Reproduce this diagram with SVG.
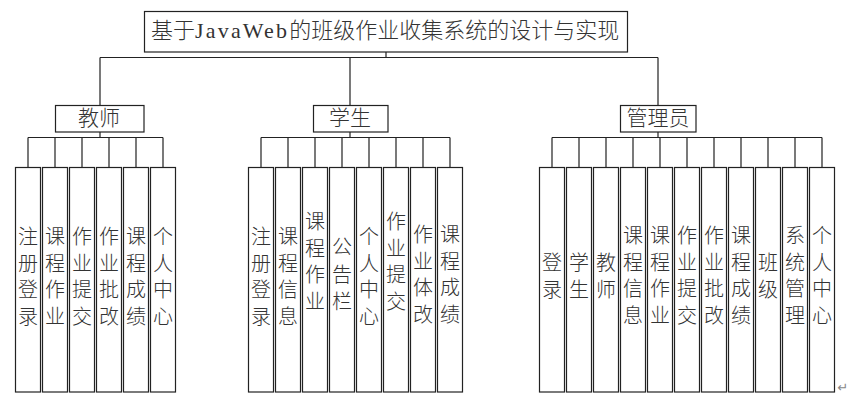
<svg xmlns="http://www.w3.org/2000/svg" width="851" height="403" viewBox="0 0 851 403">
<style>
.box{fill:#fff;stroke:#222;stroke-width:1.2}
.ln{fill:none;stroke:#222;stroke-width:1.2}
.t{font-family:"Noto Sans CJK SC",sans-serif;font-weight:300;fill:#333;text-anchor:middle}
.lf{font-size:20px}
.cat{font-size:21px}
.ttl{font-family:"Noto Sans CJK SC",sans-serif;font-size:22px;font-weight:300;fill:#333}
.lat{font-family:"Liberation Serif",serif}
</style>
<rect width="851" height="403" fill="#fff"/>
<g id="connectors">
<path class="ln" d="M386 52V57.5M100 57.5H658M100 57.5V105M350 57.5V105M658 57.5V105"/>
<path class="ln" d="M100 132V137.5M28 137.5H163M28 137.5V167M55 137.5V167M82 137.5V167M109 137.5V167M136 137.5V167M163 137.5V167"/>
<path class="ln" d="M350 132V137.5M261 137.5H450M261 137.5V167M288 137.5V167M315 137.5V167M342 137.5V167M369 137.5V167M396 137.5V167M423 137.5V167M450 137.5V167"/>
<path class="ln" d="M658 132V137.5M552 137.5H822M552 137.5V167M579 137.5V167M606 137.5V167M633 137.5V167M660 137.5V167M687 137.5V167M714 137.5V167M741 137.5V167M768 137.5V167M795 137.5V167M822 137.5V167"/>
</g>
<g id="root"><rect class="box" x="144.5" y="11.5" width="483" height="40.5"/><text class="ttl" x="151" y="38">基于<tspan class="lat" textLength="92" lengthAdjust="spacing">JavaWeb</tspan>的班级作业收集系统的设计与实现</text></g>
<g id="teacher"><rect class="box" x="55.5" y="105.5" width="88.5" height="26.5"/><text class="t cat" x="99" y="125">教师</text></g>
<g id="student"><rect class="box" x="313.5" y="105.5" width="74.5" height="26.5"/><text class="t cat" x="350" y="125">学生</text></g>
<g id="admin"><rect class="box" x="620.5" y="105.5" width="75.5" height="26.5"/><text class="t cat" x="658" y="125">管理员</text></g>

<g id="t1"><rect class="box" x="15.5" y="167.5" width="25" height="224.5"/><text class="t lf" x="28" y="244"><tspan x="28">注</tspan><tspan x="28" dy="26.7">册</tspan><tspan x="28" dy="26.7">登</tspan><tspan x="28" dy="26.7">录</tspan></text></g>
<g id="t2"><rect class="box" x="42.5" y="167.5" width="25" height="224.5"/><text class="t lf" x="55" y="244"><tspan x="55">课</tspan><tspan x="55" dy="26.7">程</tspan><tspan x="55" dy="26.7">作</tspan><tspan x="55" dy="26.7">业</tspan></text></g>
<g id="t3"><rect class="box" x="69.5" y="167.5" width="25" height="224.5"/><text class="t lf" x="82" y="244"><tspan x="82">作</tspan><tspan x="82" dy="26.7">业</tspan><tspan x="82" dy="26.7">提</tspan><tspan x="82" dy="26.7">交</tspan></text></g>
<g id="t4"><rect class="box" x="96.5" y="167.5" width="25" height="224.5"/><text class="t lf" x="109" y="244"><tspan x="109">作</tspan><tspan x="109" dy="26.7">业</tspan><tspan x="109" dy="26.7">批</tspan><tspan x="109" dy="26.7">改</tspan></text></g>
<g id="t5"><rect class="box" x="123.5" y="167.5" width="25" height="224.5"/><text class="t lf" x="136" y="244"><tspan x="136">课</tspan><tspan x="136" dy="26.7">程</tspan><tspan x="136" dy="26.7">成</tspan><tspan x="136" dy="26.7">绩</tspan></text></g>
<g id="t6"><rect class="box" x="150.5" y="167.5" width="25" height="224.5"/><text class="t lf" x="163" y="244"><tspan x="163">个</tspan><tspan x="163" dy="26.7">人</tspan><tspan x="163" dy="26.7">中</tspan><tspan x="163" dy="26.7">心</tspan></text></g>

<g id="s1"><rect class="box" x="248.5" y="167.5" width="25" height="224.5"/><text class="t lf" x="261" y="244"><tspan x="261">注</tspan><tspan x="261" dy="26.7">册</tspan><tspan x="261" dy="26.7">登</tspan><tspan x="261" dy="26.7">录</tspan></text></g>
<g id="s2"><rect class="box" x="275.5" y="167.5" width="25" height="224.5"/><text class="t lf" x="288" y="244"><tspan x="288">课</tspan><tspan x="288" dy="26.7">程</tspan><tspan x="288" dy="26.7">信</tspan><tspan x="288" dy="26.7">息</tspan></text></g>
<g id="s3"><rect class="box" x="302.5" y="167.5" width="25" height="224.5"/><text class="t lf" x="315" y="229"><tspan x="315">课</tspan><tspan x="315" dy="26.7">程</tspan><tspan x="315" dy="26.7">作</tspan><tspan x="315" dy="26.7">业</tspan></text></g>
<g id="s4"><rect class="box" x="329.5" y="167.5" width="25" height="224.5"/><text class="t lf" x="342" y="254"><tspan x="342">公</tspan><tspan x="342" dy="27.5">告</tspan><tspan x="342" dy="27.5">栏</tspan></text></g>
<g id="s5"><rect class="box" x="356.5" y="167.5" width="25" height="224.5"/><text class="t lf" x="369" y="244"><tspan x="369">个</tspan><tspan x="369" dy="26.7">人</tspan><tspan x="369" dy="26.7">中</tspan><tspan x="369" dy="26.7">心</tspan></text></g>
<g id="s6"><rect class="box" x="383.5" y="167.5" width="25" height="224.5"/><text class="t lf" x="396" y="229"><tspan x="396">作</tspan><tspan x="396" dy="26.7">业</tspan><tspan x="396" dy="26.7">提</tspan><tspan x="396" dy="26.7">交</tspan></text></g>
<g id="s7"><rect class="box" x="410.5" y="167.5" width="25" height="224.5"/><text class="t lf" x="423" y="242"><tspan x="423">作</tspan><tspan x="423" dy="26.7">业</tspan><tspan x="423" dy="26.7">体</tspan><tspan x="423" dy="26.7">改</tspan></text></g>
<g id="s8"><rect class="box" x="437.5" y="167.5" width="25" height="224.5"/><text class="t lf" x="450" y="242"><tspan x="450">课</tspan><tspan x="450" dy="26.7">程</tspan><tspan x="450" dy="26.7">成</tspan><tspan x="450" dy="26.7">绩</tspan></text></g>

<g id="a1"><rect class="box" x="539.5" y="167.5" width="25" height="224.5"/><text class="t lf" x="552" y="270"><tspan x="552">登</tspan><tspan x="552" dy="26.7">录</tspan></text></g>
<g id="a2"><rect class="box" x="566.5" y="167.5" width="25" height="224.5"/><text class="t lf" x="579" y="270"><tspan x="579">学</tspan><tspan x="579" dy="26.7">生</tspan></text></g>
<g id="a3"><rect class="box" x="593.5" y="167.5" width="25" height="224.5"/><text class="t lf" x="606" y="270"><tspan x="606">教</tspan><tspan x="606" dy="26.7">师</tspan></text></g>
<g id="a4"><rect class="box" x="620.5" y="167.5" width="25" height="224.5"/><text class="t lf" x="633" y="243"><tspan x="633">课</tspan><tspan x="633" dy="26.7">程</tspan><tspan x="633" dy="26.7">信</tspan><tspan x="633" dy="26.7">息</tspan></text></g>
<g id="a5"><rect class="box" x="647.5" y="167.5" width="25" height="224.5"/><text class="t lf" x="660" y="243"><tspan x="660">课</tspan><tspan x="660" dy="26.7">程</tspan><tspan x="660" dy="26.7">作</tspan><tspan x="660" dy="26.7">业</tspan></text></g>
<g id="a6"><rect class="box" x="674.5" y="167.5" width="25" height="224.5"/><text class="t lf" x="687" y="243"><tspan x="687">作</tspan><tspan x="687" dy="26.7">业</tspan><tspan x="687" dy="26.7">提</tspan><tspan x="687" dy="26.7">交</tspan></text></g>
<g id="a7"><rect class="box" x="701.5" y="167.5" width="25" height="224.5"/><text class="t lf" x="714" y="243"><tspan x="714">作</tspan><tspan x="714" dy="26.7">业</tspan><tspan x="714" dy="26.7">批</tspan><tspan x="714" dy="26.7">改</tspan></text></g>
<g id="a8"><rect class="box" x="728.5" y="167.5" width="25" height="224.5"/><text class="t lf" x="741" y="243"><tspan x="741">课</tspan><tspan x="741" dy="26.7">程</tspan><tspan x="741" dy="26.7">成</tspan><tspan x="741" dy="26.7">绩</tspan></text></g>
<g id="a9"><rect class="box" x="755.5" y="167.5" width="25" height="224.5"/><text class="t lf" x="768" y="270"><tspan x="768">班</tspan><tspan x="768" dy="26.7">级</tspan></text></g>
<g id="a10"><rect class="box" x="782.5" y="167.5" width="25" height="224.5"/><text class="t lf" x="795" y="243"><tspan x="795">系</tspan><tspan x="795" dy="26.7">统</tspan><tspan x="795" dy="26.7">管</tspan><tspan x="795" dy="26.7">理</tspan></text></g>
<g id="a11"><rect class="box" x="809.5" y="167.5" width="25" height="224.5"/><text class="t lf" x="822" y="243"><tspan x="822">个</tspan><tspan x="822" dy="26.7">人</tspan><tspan x="822" dy="26.7">中</tspan><tspan x="822" dy="26.7">心</tspan></text></g>
<text x="843" y="392" font-family="DejaVu Sans,sans-serif" font-size="13" fill="#888" text-anchor="middle">↵</text>
</svg>
